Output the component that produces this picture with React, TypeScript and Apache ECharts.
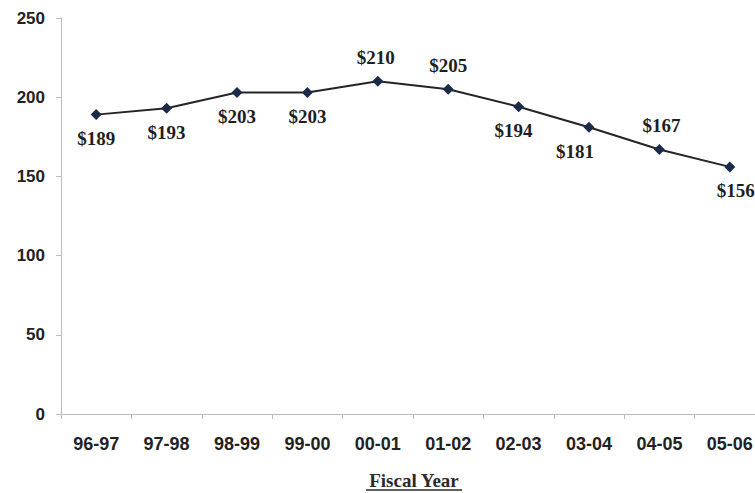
import React, { useEffect, useRef } from "react";
import * as echarts from "echarts";

const fiscalYears = ["96-97", "97-98", "98-99", "99-00", "00-01", "01-02", "02-03", "03-04", "04-05", "05-06"];
const costs = [189, 193, 203, 203, 210, 205, 194, 181, 167, 156];
// where each value label sits relative to its point
const labelSides = ["bottom", "bottom", "bottom", "bottom", "top", "top", "bottom", "bottom", "top", "bottom"];
const labelShiftX = [0, 0, 0, 0, -2, 0, -5, -14, 2, 6];
const yTicks = { min: 0, max: 250, interval: 50 };

export default function App() {
  const ref = useRef<HTMLDivElement>(null);

  useEffect(() => {
    document.body.style.margin = "0";
    const chart = echarts.init(ref.current!, undefined, { renderer: "svg" });
    const axisColor = "#b9bcc2";
    const data = costs.map((v, i) => ({
      value: v,
      label: {
        position: labelSides[i],
        offset: [labelShiftX[i], 0],
      },
    }));
    chart.setOption({
      animation: false,
      backgroundColor: "#ffffff",
      // the plot runs a little past the right edge of the canvas
      grid: {
        left: 61,
        top: 18,
        width: 704,
        height: 396,
        containLabel: false,
        outerBoundsMode: "none",
      },
      xAxis: {
        type: "category",
        data: fiscalYears,
        boundaryGap: true,
        axisLine: { lineStyle: { color: axisColor, width: 1 } },
        axisTick: { show: true, length: 5, lineStyle: { color: axisColor } },
        axisLabel: {
          margin: 21,
          color: "#222",
          fontFamily: "Liberation Sans",
          fontWeight: "bold",
          fontSize: 18,
        },
      },
      yAxis: {
        type: "value",
        min: yTicks.min,
        max: yTicks.max,
        interval: yTicks.interval,
        splitLine: { show: false },
        axisLine: { show: true, lineStyle: { color: axisColor, width: 1 } },
        axisTick: { show: true, length: 5, lineStyle: { color: axisColor } },
        axisLabel: {
          margin: 16,
          color: "#222",
          fontFamily: "Liberation Sans",
          fontWeight: "bold",
          fontSize: 17,
        },
      },
      series: [
        {
          type: "line",
          data,
          symbol: "diamond",
          symbolSize: 11,
          itemStyle: { color: "#1b2a48" },
          lineStyle: { color: "#222428", width: 2 },
          label: {
            show: true,
            distance: 9,
            formatter: (p: any) => "$" + p.value,
            color: "#1e1e1e",
            fontFamily: "Liberation Serif",
            fontWeight: "bold",
            fontSize: 19,
          },
        },
      ],
      graphic: [
        {
          type: "text",
          x: 414,
          y: 480,
          style: {
            text: "Fiscal Year",
            fill: "#2a2a2a",
            font: "bold 19px 'Liberation Serif'",
            textAlign: "center",
            textVerticalAlign: "middle",
          },
        },
        {
          type: "line",
          shape: { x1: 366, y1: 490, x2: 462, y2: 490 },
          style: { stroke: "#2a2a2a", lineWidth: 1.5 },
        },
      ],
    });
    return () => chart.dispose();
  }, []);

  return <div ref={ref} style={{ width: 755, height: 493 }} />;
}
